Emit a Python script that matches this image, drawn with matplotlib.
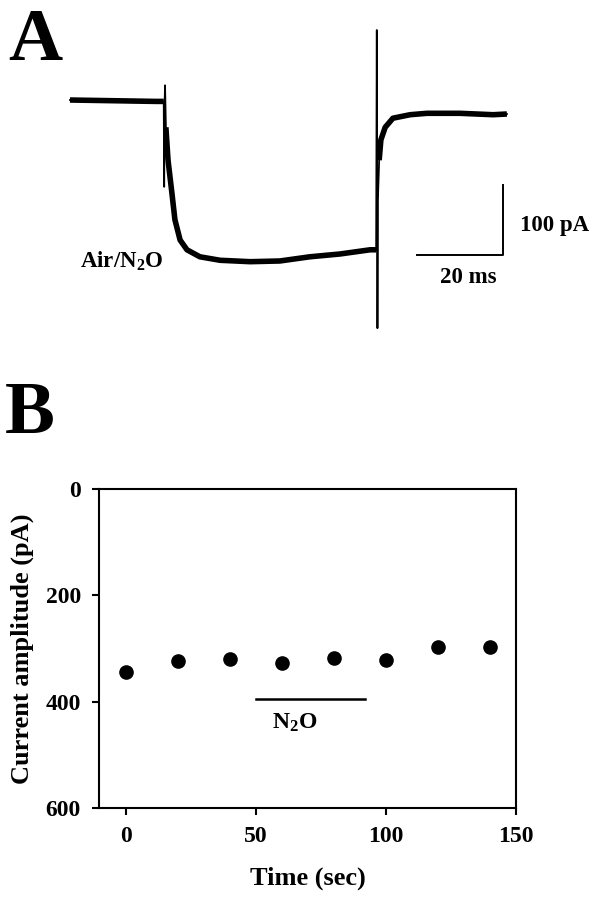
import matplotlib
matplotlib.use("Agg")
import matplotlib.pyplot as plt

plt.rcParams['font.family'] = ['Liberation Serif', 'DejaVu Serif']
plt.rcParams['font.weight'] = 'bold'
plt.rcParams['axes.labelweight'] = 'bold'
plt.rcParams['mathtext.fontset'] = 'custom'
plt.rcParams['mathtext.rm'] = 'Liberation Serif:bold'
plt.rcParams['mathtext.bf'] = 'Liberation Serif:bold'
plt.rcParams['mathtext.default'] = 'bf'

# panel A: current trace (ms, pA)
trace_t = [0, 10, 20, 21.8, 21.9, 22.0, 22.1, 22.3, 22.8, 23.7, 24.4, 25.6, 27.2, 30.2,
           34.9, 41.9, 48.8, 55.8, 62.8, 69.8, 71.2, 71.35, 71.5, 71.6, 71.9, 72.3,
           73.3, 75.1, 79.1, 83.0, 90.7, 98.4, 101.6]
trace_i = [0, -1, -2, -2, -124, -5, 21, -39, -86, -133, -171, -200, -214, -224,
           -229, -231, -230, -224, -220, -214, -214, 100, -326, -143, -86, -57,
           -39, -26, -21, -19, -19, -21, -20]

# panel B: amplitude vs time
time_s = [0, 20, 40, 60, 80, 100, 120, 140]
amp_pa = [345, 323, 320, 327, 317, 321, 297, 297]
n2o_on = [50, 92]

fig = plt.figure(figsize=(6.04, 8.99), dpi=100)

# ---- panel A ----
axa = fig.add_axes([0, 1 - 340 / 899, 1, 340 / 899])
axa.set_xlim(-16.28, 124.19)
axa.set_ylim(-342.9, 142.9)
axa.axis('off')
axa.plot(trace_t, trace_i, color='black', lw=1.3)
# noisy steady parts drawn thicker
for a, b in [(0, 4), (7, 21), (24, 33)]:
    axa.plot(trace_t[a:b], trace_i[a:b], color='black', lw=4.0, solid_capstyle='butt')
# scale bars
axa.plot([80.7, 100.7, 100.7], [-221, -221, -121], color='black', lw=1.4)
axa.text(104.7, -179, '100 pA', fontsize=16.5, ha='left', va='center')
axa.text(92.6, -254, '20 ms', fontsize=16.5, ha='center', va='center')
axa.text(2.3, -231, r'Air/N$_2$O', fontsize=16.5, ha='left', va='center')

fig.text(8 / 604, 1 - 60 / 899, 'A', fontsize=54, ha='left', va='baseline')
fig.text(5 / 604, 1 - 433 / 899, 'B', fontsize=54, ha='left', va='baseline')

# ---- panel B ----
axb = fig.add_axes([99 / 604, 1 - 808 / 899, (516 - 99) / 604, (808 - 489) / 899])
axb.plot(time_s, amp_pa, 'o', color='black', ms=9.5)
axb.plot(n2o_on, [395, 395], color='black', lw=1.8)
axb.text(65, 440, r'N$_2$O', fontsize=17, ha='center', va='center')
axb.set_xlim(-10.4, 150)
axb.set_ylim(600, 0)
axb.set_xticks([0, 50, 100, 150])
axb.set_yticks([0, 200, 400, 600])
axb.tick_params(direction='out', length=5, width=1.5, labelsize=17, pad=8)
for s in axb.spines.values():
    s.set_linewidth(1.5)
axb.set_xlabel('Time (sec)', fontsize=19, labelpad=14)
axb.set_ylabel('Current amplitude (pA)', fontsize=19, labelpad=8)

fig.savefig('out.png', dpi=100)
